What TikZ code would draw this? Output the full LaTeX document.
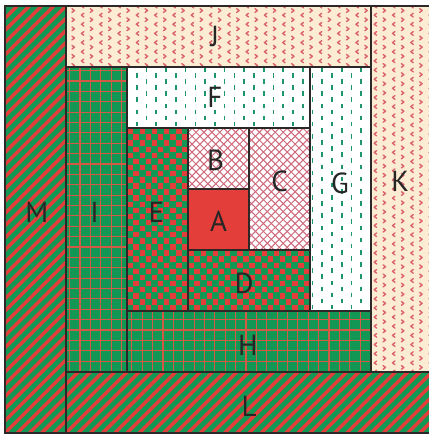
\documentclass[tikz,border=0pt]{standalone}
\usepackage{fontspec}
\setmainfont{PT Sans}
\usepackage{xcolor}

\definecolor{quiltgreen}{RGB}{18,152,84}
\definecolor{quiltred}{RGB}{228,62,58}
\definecolor{plaidred}{RGB}{208,92,70}
\definecolor{cream}{RGB}{252,236,212}
\definecolor{chevred}{RGB}{218,100,106}
\definecolor{hatchpink}{RGB}{206,104,124}
\definecolor{dashgreen}{RGB}{30,150,108}
\definecolor{seamgray}{RGB}{45,40,40}

\tikzset{
  seam/.style={draw=seamgray, line width=1.3pt},
  letter/.style={font=\fontsize{29}{29}\selectfont, text=black!85, inner sep=0pt},
}

\begin{document}
\begin{tikzpicture}[x=61pt,y=-61pt]
  \useasboundingbox (-0.082,-0.098) rectangle (6.934,7.016);
  \fill[white] (-0.082,-0.098) rectangle (6.934,7.016);

  % diagonal stripes, red on green
  \def\stripes#1#2#3#4{%
    \begin{scope}
      \clip (#1,#2) rectangle (#3,#4);
      \fill[quiltgreen] (#1,#2) rectangle (#3,#4);
      \foreach \c in {0,0.2,...,14.2}
        \draw[quiltred, line width=3.4pt] (\c,0) -- ++(-7,7);
    \end{scope}}
  % plaid, thin red grid on green
  \def\plaid#1#2#3#4{%
    \begin{scope}
      \clip (#1,#2) rectangle (#3,#4);
      \fill[quiltgreen] (#1,#2) rectangle (#3,#4);
      \foreach \g in {0.04,0.21,...,7}{
        \draw[plaidred, line width=1.1pt] (\g,#2) -- (\g,#4);
        \draw[plaidred, line width=1.1pt] (#1,\g) -- (#3,\g);
      }
    \end{scope}}
  % checks, cells of a tenth
  \def\checks#1#2#3#4{%
    \fill[quiltgreen] (#1/10,#2/10) rectangle (#3/10+0.1,#4/10+0.1);
    \foreach \i in {#1,...,#3}
      \foreach \j in {#2,...,#4}{
        \pgfmathtruncatemacro\odd{mod(\i+\j,2)}
        \ifnum\odd=0 \fill[quiltred] (\i/10+0.005,\j/10+0.005) rectangle ++(0.09,0.09); \fi
      }}
  % crosshatch, pink on white
  \def\hatch#1#2#3#4{%
    \begin{scope}
      \clip (#1,#2) rectangle (#3,#4);
      \fill[white] (#1,#2) rectangle (#3,#4);
      \foreach \c in {0,0.13,...,14.1}{
        \draw[hatchpink, line width=1pt] (\c,0) -- ++(-7,7);
        \draw[hatchpink, line width=1pt] (\c-7,0) -- ++(7,7);
      }
    \end{scope}}
  % short green dashes on white
  \def\dashes#1#2#3#4{%
    \begin{scope}
      \clip (#1,#2) rectangle (#3,#4);
      \fill[white] (#1,#2) rectangle (#3,#4);
      \pgfmathtruncatemacro\na{#1/0.16}\pgfmathtruncatemacro\nb{#3/0.16}
      \pgfmathtruncatemacro\ma{#2/0.2-1}\pgfmathtruncatemacro\mb{#4/0.2}
      \foreach \i in {\na,...,\nb}
        \foreach \j in {\ma,...,\mb}
          \draw[dashgreen, line width=1.7pt] ({0.16*\i+0.08},{0.2*\j+0.1*mod(\i,2)}) -- ++(0,0.075);
    \end{scope}}
  % little red chevrons on cream
  \def\chevrons#1#2#3#4{%
    \begin{scope}
      \clip (#1,#2) rectangle (#3,#4);
      \fill[cream] (#1,#2) rectangle (#3,#4);
      \pgfmathtruncatemacro\na{#1/0.15}\pgfmathtruncatemacro\nb{#3/0.15}
      \pgfmathtruncatemacro\ma{#2/0.15-1}\pgfmathtruncatemacro\mb{#4/0.15}
      \foreach \i in {\na,...,\nb}
        \foreach \j in {\ma,...,\mb}{
          \pgfmathsetmacro\s{1-2*mod(\i,2)}
          \draw[chevred, line width=1.4pt, line cap=round, line join=round]
            ({0.15*\i+0.07+0.022*\s},{0.15*\j+0.075*mod(\i,2)-0.03})
            -- ++({-0.04*\s},0.03) -- ++({0.04*\s},0.03);
        }
    \end{scope}}

  \stripes{0}{0}{1}{7}
  \stripes{1}{6}{7}{7}
  \plaid{1}{1}{2}{6}
  \plaid{2}{5}{6}{6}
  \checks{20}{20}{29}{49}
  \checks{30}{40}{49}{49}
  \fill[quiltred] (3,3) rectangle (4,4);
  \hatch{3}{2}{4}{3}
  \hatch{4}{2}{5}{4}
  \dashes{2}{1}{5}{2}
  \dashes{5}{1}{6}{5}
  \chevrons{1}{0}{6}{1}
  \chevrons{6}{0}{7}{6}

  % seams
  \foreach \a/\b/\c/\d in {3/3/4/4, 3/2/4/3, 4/2/5/4, 3/4/5/5, 2/2/3/5, 2/1/5/2, 5/1/6/5,
                           2/5/6/6, 1/1/2/6, 1/0/6/1, 6/0/7/6, 1/6/7/7, 0/0/1/7}
    \draw[seam] (\a,\b) rectangle (\c,\d);

  \node[letter] (A) at (3.5,3.52) {A};
  \node[letter] (B) at (3.45,2.53) {B};
  \node[letter] (C) at (4.5,2.88) {C};
  \node[letter] (D) at (3.92,4.54) {D};
  \node[letter] (E) at (2.48,3.38) {E};
  \node[letter] (F) at (3.44,1.5) {F};
  \node[letter] (G) at (5.49,2.9) {G};
  \node[letter] (H) at (3.98,5.56) {H};
  \node[letter] (I) at (1.47,3.38) {I};
  \node[letter] (J) at (3.44,0.5) {J};
  \node[letter] (K) at (6.48,2.87) {K};
  \node[letter] (L) at (4.0,6.56) {L};
  \node[letter] (M) at (0.52,3.38) {M};
\end{tikzpicture}
\end{document}
